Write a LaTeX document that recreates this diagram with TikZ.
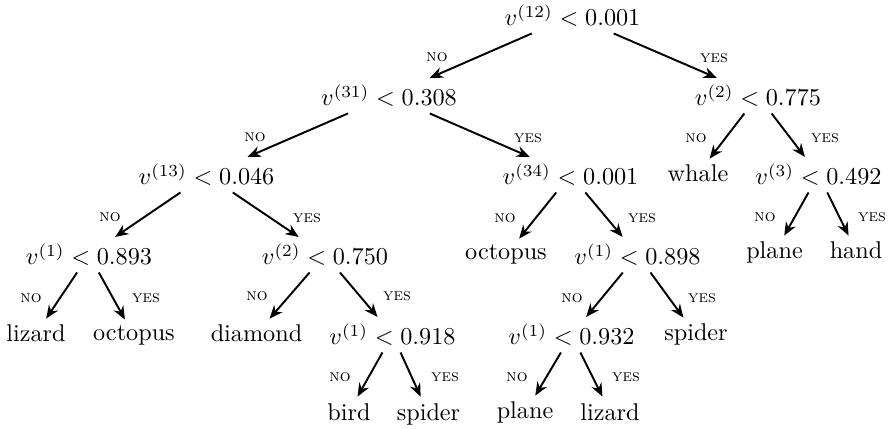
\documentclass[tikz,border=0pt]{standalone}
\usetikzlibrary{arrows.meta}
\begin{document}
\begin{tikzpicture}[x=0.413pt,y=-0.413pt,
  tn/.style={anchor=base,inner sep=2.5pt},
  lbl/.style={inner sep=0pt,font=\scriptsize},
  arr/.style={thick,-{Stealth[length=5.5pt,width=4.5pt]}}]
\useasboundingbox (0,0) rectangle (890,429);
% decision and leaf nodes
\node[tn] (r) at (572.5,26) {$v^{(12)} < 0.001$};
\node[tn] (a) at (389,106) {$v^{(31)} < 0.308$};
\node[tn] (b) at (758,106) {$v^{(2)} < 0.775$};
\node[tn] (c) at (206.5,185) {$v^{(13)} < 0.046$};
\node[tn] (d) at (570.5,185) {$v^{(34)} < 0.001$};
\node[tn] (e) at (698,182) {whale};
\node[tn] (f) at (818.5,185) {$v^{(3)} < 0.492$};
\node[tn] (g) at (89,265) {$v^{(1)} < 0.893$};
\node[tn] (h) at (325,265) {$v^{(2)} < 0.750$};
\node[tn] (i) at (506,260) {octopus};
\node[tn] (j) at (637.5,265) {$v^{(1)} < 0.898$};
\node[tn] (k) at (774.5,259) {plane};
\node[tn] (l) at (856,259) {hand};
\node[tn] (m) at (36,342) {lizard};
\node[tn] (n) at (134,341) {octopus};
\node[tn] (o) at (256.5,342) {diamond};
\node[tn] (p) at (392.5,345) {$v^{(1)} < 0.918$};
\node[tn] (q) at (571.5,345) {$v^{(1)} < 0.932$};
\node[tn] (s) at (696,341) {spider};
\node[tn] (t) at (349,420) {bird};
\node[tn] (u) at (428.5,420) {spider};
\node[tn] (w) at (525,419) {plane};
\node[tn] (z) at (610,420) {lizard};
% edges
\draw[arr] (r) -- (a); \draw[arr] (r) -- (b);
\draw[arr] (a) -- (c); \draw[arr] (a) -- (d);
\draw[arr] (b) -- (e); \draw[arr] (b) -- (f);
\draw[arr] (c) -- (g); \draw[arr] (c) -- (h);
\draw[arr] (d) -- (i); \draw[arr] (d) -- (j);
\draw[arr] (f) -- (k); \draw[arr] (f) -- (l);
\draw[arr] (g) -- (m); \draw[arr] (g) -- (n);
\draw[arr] (h) -- (o); \draw[arr] (h) -- (p);
\draw[arr] (j) -- (q); \draw[arr] (j) -- (s);
\draw[arr] (p) -- (t); \draw[arr] (p) -- (u);
\draw[arr] (q) -- (w); \draw[arr] (q) -- (z);
% edge labels
\node[lbl] (rN) at (437,57) {\textsc{no}};
\node[lbl] (rY) at (714,58) {\textsc{yes}};
\node[lbl] (aN) at (255,137) {\textsc{no}};
\node[lbl] (aY) at (528,138) {\textsc{yes}};
\node[lbl] (bN) at (696,138) {\textsc{no}};
\node[lbl] (bY) at (825,138) {\textsc{yes}};
\node[lbl] (cN) at (110,217) {\textsc{no}};
\node[lbl] (cY) at (307,218) {\textsc{yes}};
\node[lbl] (dN) at (505,218) {\textsc{no}};
\node[lbl] (dY) at (642,218) {\textsc{yes}};
\node[lbl] (fN) at (765,217) {\textsc{no}};
\node[lbl] (fY) at (872,217) {\textsc{yes}};
\node[lbl] (gN) at (31,298) {\textsc{no}};
\node[lbl] (gY) at (146,298) {\textsc{yes}};
\node[lbl] (hN) at (257,296) {\textsc{no}};
\node[lbl] (hY) at (397,296) {\textsc{yes}};
\node[lbl] (jN) at (572,298) {\textsc{no}};
\node[lbl] (jY) at (702,298) {\textsc{yes}};
\node[lbl] (pN) at (340,377) {\textsc{no}};
\node[lbl] (pY) at (445,377) {\textsc{yes}};
\node[lbl] (qN) at (517,377) {\textsc{no}};
\node[lbl] (qY) at (626,377) {\textsc{yes}};
\end{tikzpicture}
\end{document}
